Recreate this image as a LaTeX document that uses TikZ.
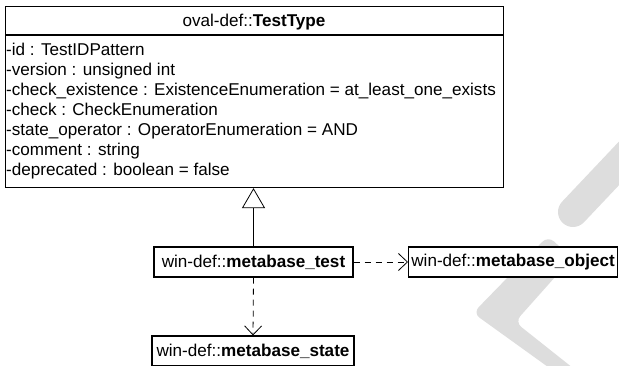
\documentclass[tikz,border=0pt]{standalone}
\usepackage{fontspec}
\setmainfont{Liberation Sans}
\usetikzlibrary{arrows.meta}
\definecolor{wm}{HTML}{DDDDDD}
\tikzset{
  box/.style={draw, line width=1.1pt, fill=white, inner sep=0pt, minimum height=30},
  lbl/.style={font=\fontsize{17.1}{20}\selectfont},
  attr/.style={lbl, anchor=base west, inner sep=0pt},
  dep/.style={draw, dash pattern=on 6pt off 5pt, line width=0.8pt, -{Straight Barb[length=9pt,width=17pt,line width=0.8pt]}},
  gen/.style={draw, line width=0.8pt, -{Triangle[open,length=20pt,width=23pt,line width=0.8pt,fill=white]}},
}
\begin{document}
\begin{tikzpicture}[x=1pt,y=-1pt]
\useasboundingbox (0,0) rectangle (619,366);
% watermark
\draw[wm, line width=30, line cap=round] (573,212) -- (660,120);
\fill[wm, rounded corners=8] (548,236) -- (572,258) -- (515,322) -- (578,372) -- (555,372) -- (473,313) -- cycle;
% class box
\node[draw, line width=1.1pt, fill=white, minimum width=498, minimum height=181, inner sep=0pt, anchor=north west] (cls) at (5,6) {};
\draw[line width=1.1pt] (cls.west |- 0,35) -- (cls.east |- 0,35);
\node[lbl, anchor=base, inner sep=0pt] (title) at (254,27) {oval-def::\textbf{TestType}};
\node[attr] (a1) at (6,56) {-id : TestIDPattern};
\node[attr] (a2) at (6,76) {-version : unsigned int};
\node[attr] (a3) at (6,96) {-check\_existence : ExistenceEnumeration = at\_least\_one\_exists};
\node[attr] (a4) at (6,116) {-check : CheckEnumeration};
\node[attr] (a5) at (6,136) {-state\_operator : OperatorEnumeration = AND};
\node[attr] (a6) at (6,156) {-comment : string};
\node[attr] (a7) at (6,176) {-deprecated : boolean = false};
% other classes
\node[box, lbl, minimum width=199] (test) at (253.5,262) {win-def::\textbf{metabase\_test}};
\node[box, lbl, minimum width=209, anchor=west] (obj) at (408,262) {win-def::\textbf{metabase\_object}};
\node[box, lbl, minimum width=202] (state) at (253,351) {win-def::\textbf{metabase\_state}};
% connectors
\draw[gen] (test.north) -- (cls.south -| test.north);
\draw[dep] (test.east) -- (obj.west);
\draw[dep] (test.south) -- (state.north);
\end{tikzpicture}
\end{document}
